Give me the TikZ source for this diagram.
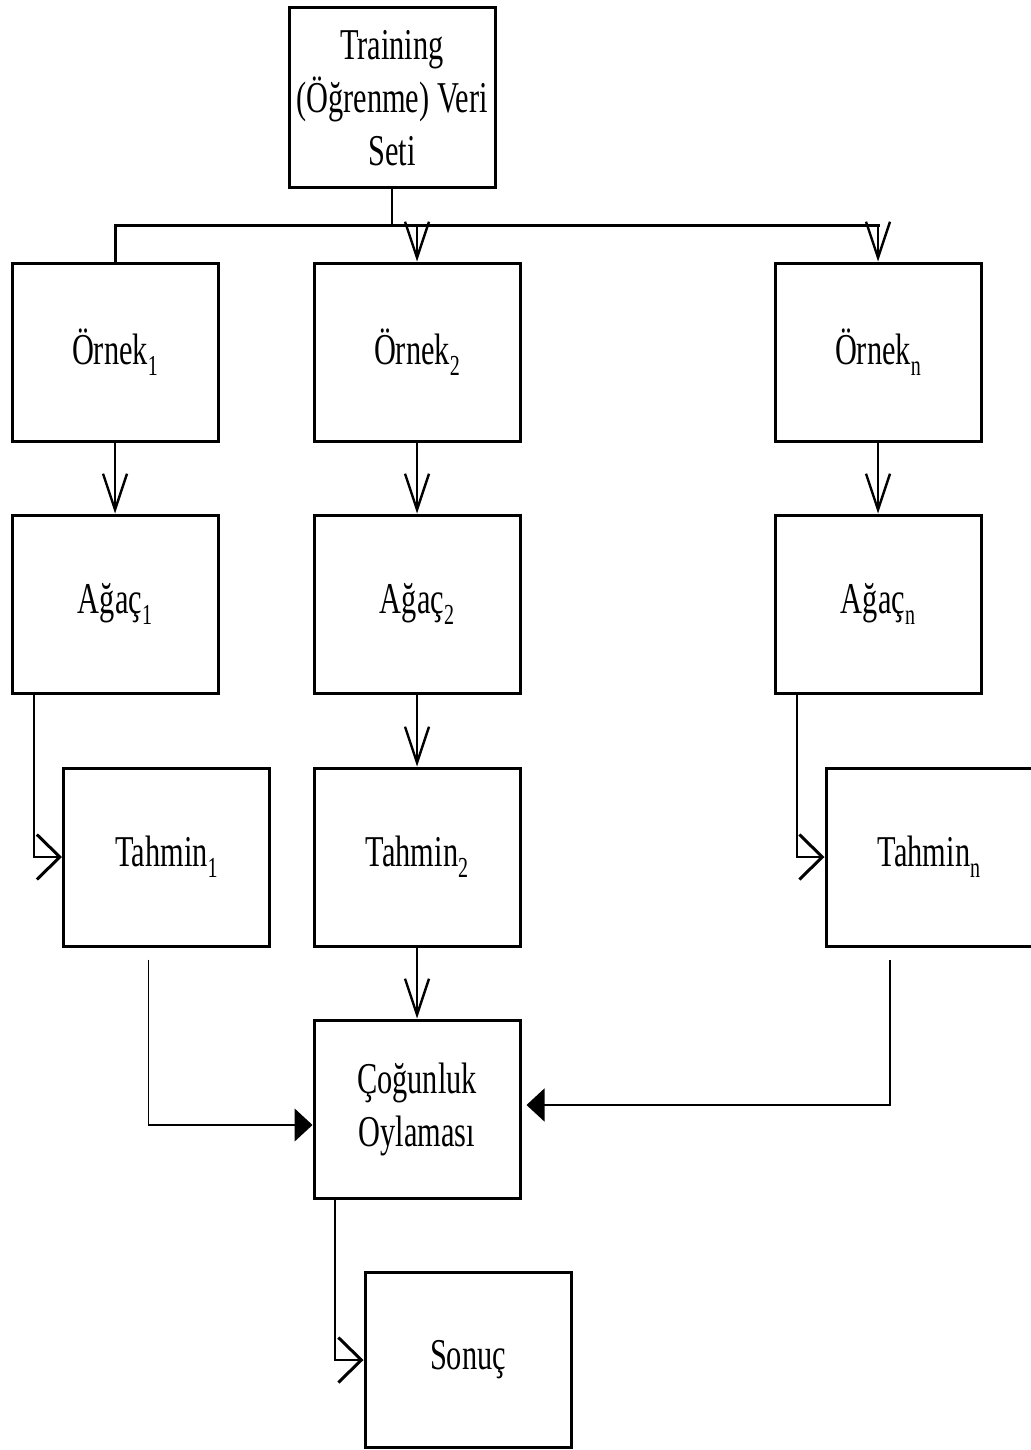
\documentclass[tikz,border=0pt]{standalone}
\usepackage{fontspec}
\setmainfont{Liberation Serif}[FakeStretch=0.69]
\usetikzlibrary{arrows.meta}
\newcommand{\lowidx}[1]{\raisebox{-11pt}{\fontsize{29}{29}\selectfont #1}}
\tikzset{
  box/.style={draw, line width=3pt, minimum width=206pt, minimum height=178pt,
    inner sep=0pt, align=center, font=\fontsize{44}{53}\selectfont},
  vconn/.style={line width=2pt, -{Straight Barb[length=36pt,width=24pt,line width=2.4pt]}},
  hconn/.style={line width=2.2pt, -{Straight Barb[length=23pt,width=45pt,line width=3pt]}},
  tconn/.style={line width=1.3pt, -{Triangle[length=18pt,width=33pt]}},
  plain/.style={line width=2pt}
}
\begin{document}
\begin{tikzpicture}[x=1pt,y=-1pt]
\useasboundingbox (0,0) rectangle (1030,1450);
% nodes
\node[box, minimum height=180pt] (top) at (392,98) {Training\\(Öğrenme) Veri\\Seti};
\node[box] (O1) at (115,352) {Örnek\lowidx{1}};
\node[box] (O2) at (417,352) {Örnek\lowidx{2}};
\node[box] (On) at (878,352) {Örnek\lowidx{n}};
\node[box] (A1) at (115,604) {Ağaç\lowidx{1}};
\node[box] (A2) at (417,604) {Ağaç\lowidx{2}};
\node[box] (An) at (878,604) {Ağaç\lowidx{n}};
\node[box] (T1) at (166.5,857) {Tahmin\lowidx{1}};
\node[box] (T2) at (417,857) {Tahmin\lowidx{2}};
\node[box] (Tn) at (929,857) {Tahmin\lowidx{n}};
\node[box] (C) at (417,1109) {Çoğunluk\\Oylaması};
\node[box, minimum height=175pt] (S) at (468,1360) {Sonuç};
\coordinate (bus) at (391,225);
% distribution
\draw[plain] (top.south) -- (top.south |- bus);
\draw[line width=3pt] (O1.north) -- (O1.north |- bus) -- ([xshift=2pt]On.north |- bus);
\draw[vconn] (O2.north |- bus) -- (O2.north);
\draw[vconn] (On.north |- bus) -- (On.north);
% columns
\draw[vconn] (O1) -- (A1);
\draw[vconn] (O2) -- (A2);
\draw[vconn] (On) -- (An);
\draw[hconn] ([xshift=-81pt]A1.south) |- (T1.west);
\draw[vconn] (A2) -- (T2);
\draw[hconn] ([xshift=-81pt]An.south) |- (Tn.west);
\draw[vconn] (T2) -- (C);
\draw[tconn] ([xshift=-18pt,yshift=-12pt]T1.south) |- ([yshift=-16pt]C.west);
\draw[tconn, shorten >=5pt] ([xshift=-39pt,yshift=-12pt]Tn.south) |- ([yshift=4pt]C.east);
\draw[hconn] ([xshift=-82pt]C.south) |- (S.west);
\end{tikzpicture}
\end{document}
